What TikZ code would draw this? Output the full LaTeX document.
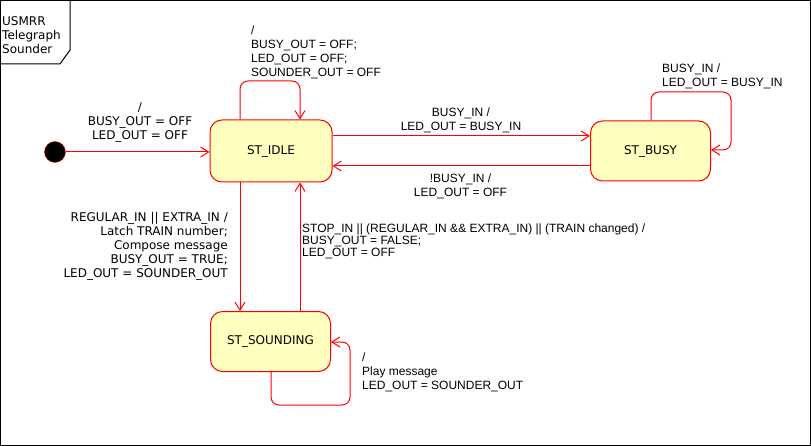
\documentclass[tikz,border=0pt]{standalone}
\usepackage{fontspec}
\setmainfont{Liberation Sans}
\newfontfamily\verd{DejaVu Sans}
\usetikzlibrary{arrows.meta}
\definecolor{statefill}{HTML}{FFFFC0}
\begin{document}
\begin{tikzpicture}[x=1pt,y=-1pt,
  state/.style={draw=red, fill=statefill, rounded corners=12pt, line width=1pt, minimum width=120pt, minimum height=60pt, font=\verd\fontsize{12}{14}\selectfont, inner sep=0pt},
  tr/.style={draw=red, line width=1pt, -{Straight Barb[length=8pt,width=10pt,line width=1pt]}},
  lbl/.style={font=\fontsize{12}{14}\selectfont, inner sep=0pt},
  vlbl/.style={font=\verd\fontsize{12}{14}\selectfont, inner sep=0pt}]
\useasboundingbox (0,0) rectangle (811,446);
\draw[line width=1pt] (0.5,0.5) rectangle (810.5,445.5);
% title box
\draw[line width=1pt] (70,0.5) -- (70,50) -- (60,64) -- (0.5,64);
\node[vlbl, anchor=west, align=left] (title) at (2,35) {USMRR\\Telegraph\\Sounder};
% states
\node[state, minimum width=122pt, minimum height=62pt] (idle) at (271,151) {ST\_IDLE};
\node[state] (busy) at (650.5,151) {ST\_BUSY};
\node[state] (sound) at (270.5,341.5) {ST\_SOUNDING};
\node[circle, fill=black, draw=red, minimum size=21pt, inner sep=0pt] (init) at (55,152) {};
% helper coordinates
\coordinate (c240) at (240,81);
\coordinate (c300) at (300,81);
\coordinate (b1) at (651,92);
\coordinate (b2) at (731,92);
\coordinate (b3) at (731,150);
\coordinate (y136) at (0,136);
\coordinate (y166) at (0,166);
\coordinate (s1) at (271,405);
\coordinate (s2) at (350,405);
\coordinate (s3) at (350,342);
% transitions
\draw[tr] (init.east) -- (init.east -| idle.west);
\draw[tr, rounded corners=8pt] (idle.north -| c240) -- (c240) -- (c300) -- (idle.north -| c300);
\draw[tr, rounded corners=8pt] (busy.north -| b1) -- (b1) -- (b2) -- (b3) -- (b3 -| busy.east);
\draw[tr] (idle.east |- y136) -- (busy.west |- y136);
\draw[tr] (busy.west |- y166) -- (idle.east |- y166);
\draw[tr] (idle.south -| c240) -- (sound.north -| c240);
\draw[tr] (sound.north -| c300) -- (idle.south -| c300);
\draw[tr, rounded corners=8pt] (sound.south -| s1) -- (s1) -- (s2) -- (s3) -- (s3 -| sound.east);
% labels
\node[vlbl, align=center] (linit) at (140,123) {/\\BUSY\_OUT = OFF\\LED\_OUT = OFF};
\node[lbl, anchor=west, align=left] (lidle) at (251,52.5) {/\\BUSY\_OUT = OFF;\\LED\_OUT = OFF;\\SOUNDER\_OUT = OFF};
\node[lbl, align=center] (lib) at (461,120.5) {BUSY\_IN /\\LED\_OUT = BUSY\_IN};
\node[lbl, align=center] (lbi) at (460.5,186.5) {!BUSY\_IN /\\LED\_OUT = OFF};
\node[lbl, anchor=west, align=left] (lbb) at (662,76.5) {BUSY\_IN /\\LED\_OUT = BUSY\_IN};
\node[vlbl, anchor=east, align=right] (lis) at (228,246) {REGULAR\_IN || EXTRA\_IN /\\Latch TRAIN number;\\Compose message\\BUSY\_OUT = TRUE;\\LED\_OUT = SOUNDER\_OUT};
\node[lbl, font=\fontsize{12}{12}\selectfont, anchor=west, align=left] (lsi) at (302,241) {STOP\_IN || (REGULAR\_IN \&\& EXTRA\_IN) || (TRAIN changed) /\\BUSY\_OUT = FALSE;\\LED\_OUT = OFF};
\node[lbl, anchor=west, align=left] (lss) at (362,372) {/\\Play message\\LED\_OUT = SOUNDER\_OUT};
\end{tikzpicture}
\end{document}
